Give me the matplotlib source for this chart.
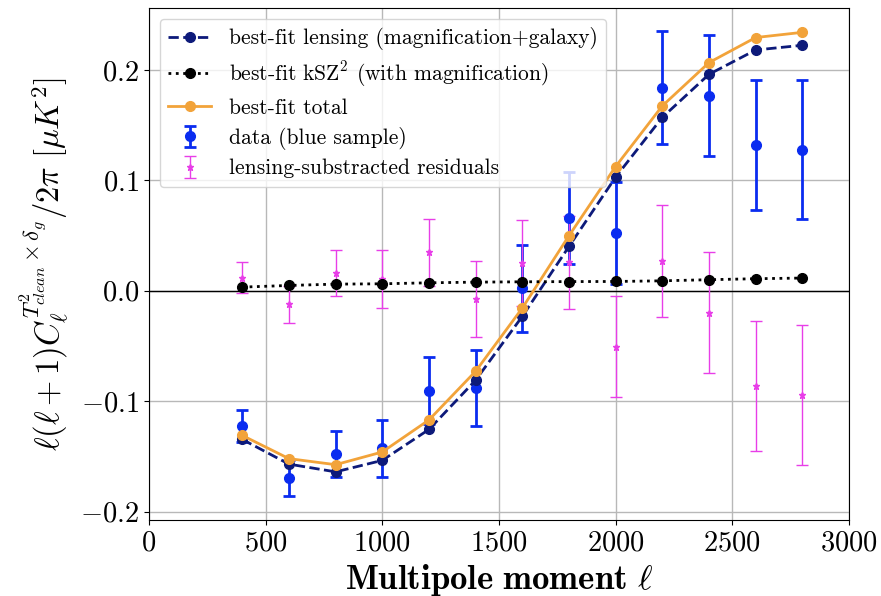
import matplotlib
matplotlib.use("Agg")
import matplotlib.pyplot as plt

plt.rcParams['font.family'] = 'serif'
plt.rcParams['font.serif'] = ['cmr10', 'DejaVu Serif']
plt.rcParams['mathtext.fontset'] = 'cm'
plt.rcParams['axes.formatter.use_mathtext'] = True
plt.rcParams['axes.unicode_minus'] = True

ell = [400, 600, 800, 1000, 1200, 1400, 1600, 1800, 2000, 2200, 2400, 2600, 2800]

lensing = [-0.1346, -0.157, -0.164, -0.1536, -0.1256, -0.081, -0.0232,
           0.0401, 0.1029, 0.157, 0.196, 0.218, 0.2223]
ksz = [0.0033, 0.0048, 0.006, 0.0063, 0.0072, 0.0078, 0.0081,
       0.0083, 0.0084, 0.009, 0.010, 0.0109, 0.0115]
total = [-0.131, -0.152, -0.1575, -0.146, -0.117, -0.0729, -0.0157,
         0.0498, 0.1125, 0.1674, 0.2066, 0.2293, 0.234]

data = [-0.1226, -0.1696, -0.148, -0.1428, -0.0904, -0.088, 0.0021,
        0.0658, 0.0524, 0.184, 0.1765, 0.1321, 0.1279]
data_err = [0.0142, 0.0166, 0.021, 0.026, 0.0304, 0.0345, 0.039,
            0.042, 0.046, 0.051, 0.0548, 0.0587, 0.0633]

resid = [0.0118, -0.0124, 0.0158, 0.0108, 0.0350, -0.0072, 0.0253,
         0.0257, -0.0506, 0.0268, -0.0198, -0.0862, -0.0944]
resid_err = [0.0142, 0.0166, 0.021, 0.026, 0.0304, 0.0345, 0.039,
             0.042, 0.046, 0.051, 0.0548, 0.0587, 0.0633]

fig = plt.figure(figsize=(8.81, 5.96), dpi=100)
ax = fig.add_axes([0.169, 0.1275, 0.7947, 0.859])

h_data = ax.errorbar(ell, data, yerr=data_err, fmt='o', color='#0a2cf0', ms=7,
                     elinewidth=2, capsize=4, capthick=2, zorder=2,
                     label='data (blue sample)')
h_res = ax.errorbar(ell, resid, yerr=resid_err, fmt='*', color='#e83ee8', ms=5,
                    elinewidth=1, capsize=4, capthick=1, zorder=2,
                    label='lensing-substracted residuals')
h_len, = ax.plot(ell, lensing, '--o', color='#0d1a7a', ms=7, lw=2, zorder=3,
                 label='best-fit lensing (magnification+galaxy)')
h_ksz, = ax.plot(ell, ksz, ':o', color='black', ms=7, lw=2, zorder=4,
                 label='best-fit kSZ$^2$ (with magnification)')
h_tot, = ax.plot(ell, total, '-o', color='#f2a33a', ms=7, lw=2, zorder=3,
                 label='best-fit total')

ax.axhline(0, color='black', lw=1, zorder=1)
ax.grid(True, color='#b8b8b8', lw=1)
ax.set_axisbelow(True)

ax.set_xlim(0, 3000)
ax.set_ylim(-0.2076, 0.256)
ax.set_xticks([0, 500, 1000, 1500, 2000, 2500, 3000])
ax.set_yticks([-0.2, -0.1, 0.0, 0.1, 0.2])
ax.tick_params(labelsize=20.5)

ax.set_xlabel(r'$\mathbf{Multipole\ moment}\ \ell$', fontsize=25)
ax.set_ylabel(r'$\ell(\ell+1)C_\ell^{T^2_{clean}\times\delta_g}/2\pi\ [\mu K^2]$',
              fontsize=23.5, labelpad=6)

ax.legend(handles=[h_len, h_ksz, h_tot, h_data, h_res], loc='upper left',
          fontsize=15.5, framealpha=0.8, handletextpad=0.8, labelspacing=0.42)

fig.savefig('out.png', dpi=100)
